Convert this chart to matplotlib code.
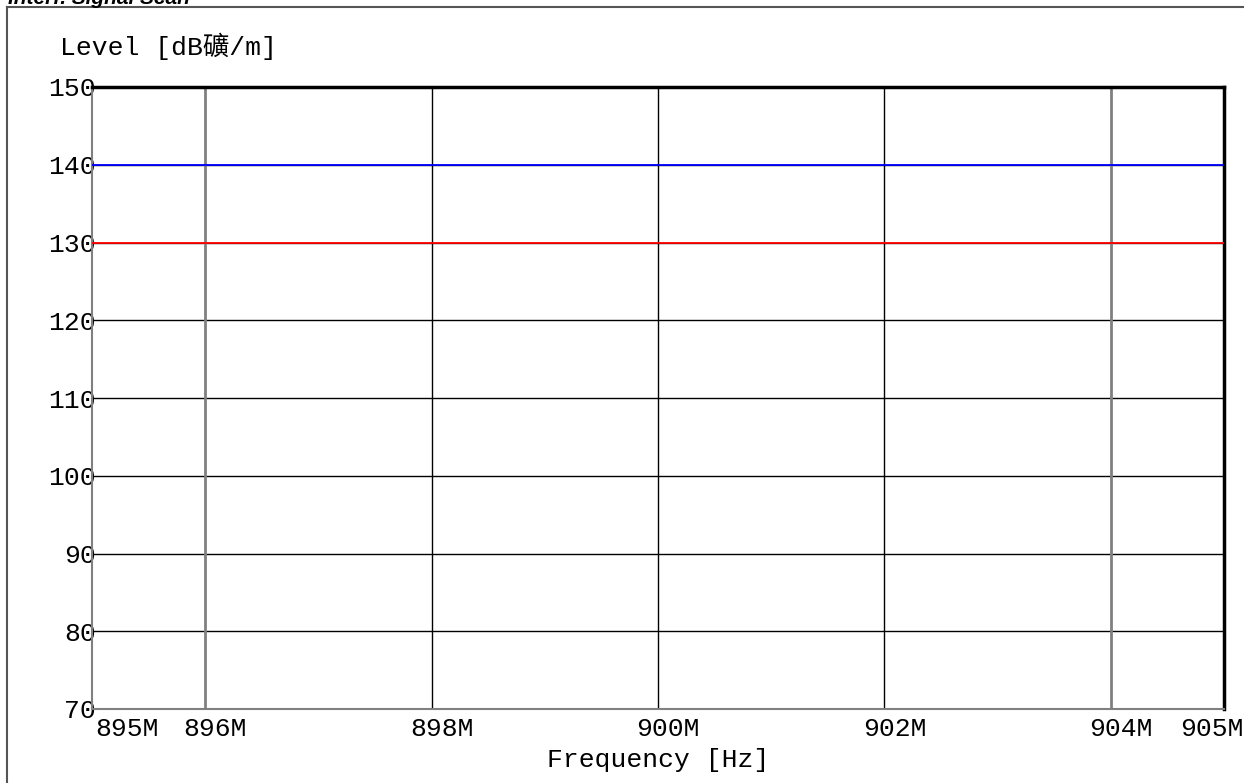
import matplotlib
matplotlib.use('Agg')
import matplotlib.pyplot as plt
import matplotlib.transforms as mtransforms
from matplotlib.lines import Line2D

plt.rcParams['font.family'] = ['Liberation Mono', 'Noto Sans CJK SC', 'DejaVu Sans']

# chart data
freq_start = 895e6
freq_stop = 905e6
level_min = 70
level_max = 150
x_ticks = [895e6, 896e6, 898e6, 900e6, 902e6, 904e6, 905e6]
x_tick_labels = ['895M', '896M', '898M', '900M', '902M', '904M', '905M']
y_ticks = [70, 80, 90, 100, 110, 120, 130, 140, 150]
limit_levels = [140, 130]
limit_colors = ['#0000ff', '#ff0000']
grid_dark = [898e6, 900e6, 902e6]
grid_light = [896e6, 904e6]

W, H = 1244, 783
fig = plt.figure(figsize=(W / 100, H / 100), dpi=100)
ax = fig.add_axes([92 / W, 74 / H, (1224 - 92) / W, (709 - 87) / H])

ax.set_xlim(freq_start, freq_stop)
ax.set_ylim(level_min, level_max)

# horizontal grid
for y in y_ticks[1:-1]:
    ax.axhline(y, color='black', lw=1, zorder=1)
for x in grid_dark:
    ax.axvline(x, color='black', lw=1, zorder=1)
for x in grid_light:
    ax.axvline(x, color='#808080', lw=2, zorder=1)

# limit lines
for lvl, c in zip(limit_levels, limit_colors):
    ax.plot([freq_start, freq_stop], [lvl, lvl], color=c, lw=1.3, zorder=3)

ax.spines['top'].set_color('black')
ax.spines['top'].set_linewidth(2.5)
ax.spines['right'].set_color('black')
ax.spines['right'].set_linewidth(2.5)
ax.spines['left'].set_color('#808080')
ax.spines['left'].set_linewidth(1.5)
ax.spines['bottom'].set_color('#808080')
ax.spines['bottom'].set_linewidth(1.5)

ax.set_xticks(x_ticks)
ax.set_xticklabels(x_tick_labels, fontsize=19)
ax.set_yticks(y_ticks)
ax.set_yticklabels([str(v) for v in y_ticks], fontsize=19)
ax.tick_params(axis='both', length=0)
ax.tick_params(axis='y', pad=-3)
ax.tick_params(axis='x', pad=6)

labs = ax.get_xticklabels()
for i, lab in enumerate(labs):
    if i == 0:
        lab.set_ha('left')
        dx = 3
    elif i == len(labs) - 1:
        lab.set_ha('right')
        dx = 20
    else:
        dx = 10
    lab.set_transform(lab.get_transform() + mtransforms.ScaledTranslation(dx / 100, 0, fig.dpi_scale_trans))

fig.text(60 / W, 1 - 46 / H, 'Level [dB礦/m]', fontsize=19, ha='left', va='center')
fig.text(658 / W, 1 - 760 / H, 'Frequency [Hz]', fontsize=19, ha='center', va='center')

# title, cut off at the top edge
fig.text(8 / W, 1 - 4 / H, 'Interf. Signal Scan', family='Liberation Sans',
         fontsize=15, fontweight='bold', fontstyle='italic', ha='left', va='baseline')

# outer frame
fig.add_artist(Line2D([7 / W, 7 / W], [1 - 7 / H, 0], transform=fig.transFigure, color='#555555', lw=1.5))
fig.add_artist(Line2D([7 / W, 1243 / W], [1 - 7 / H, 1 - 7 / H], transform=fig.transFigure, color='#555555', lw=1.5))

fig.savefig('out.png', dpi=100)
